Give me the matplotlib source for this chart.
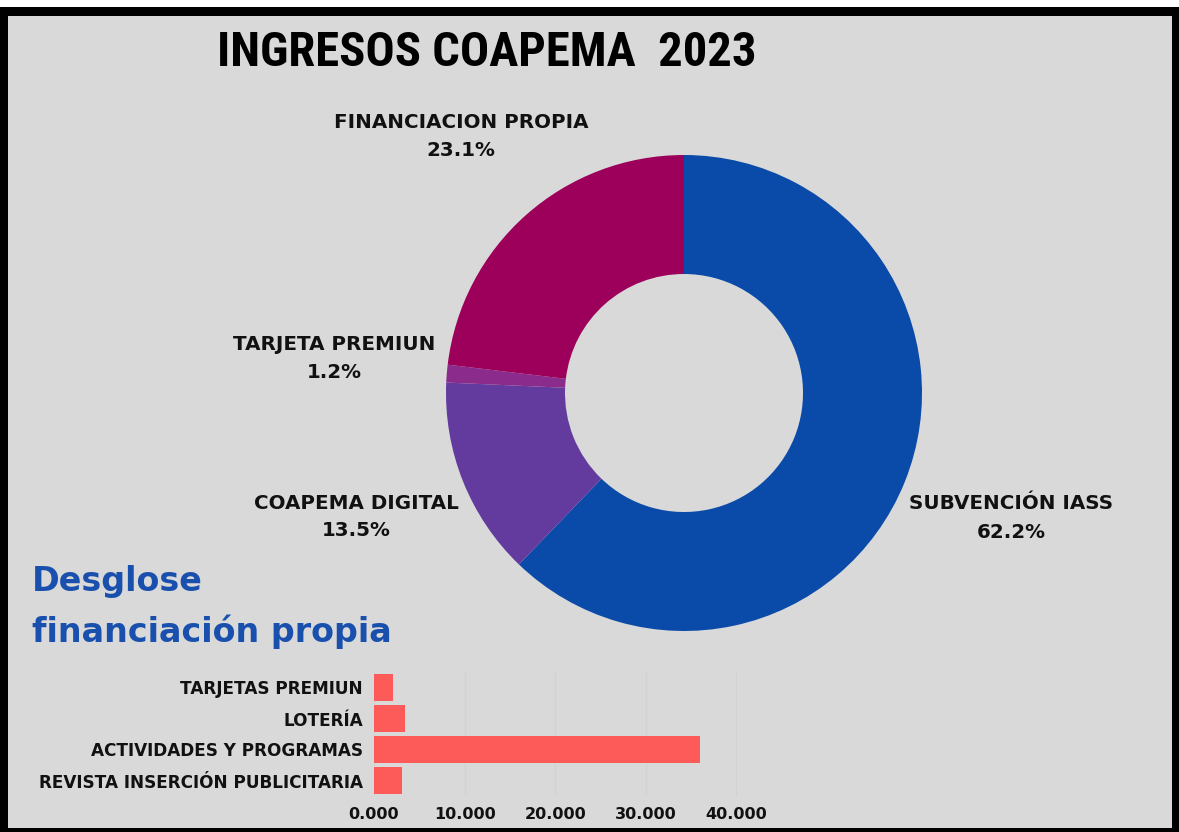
import matplotlib.pyplot as plt
from matplotlib.patches import Rectangle
from matplotlib.ticker import FuncFormatter

# datos donut
fuentes = ["SUBVENCIÓN IASS", "COAPEMA DIGITAL", "TARJETA PREMIUN", "FINANCIACION PROPIA"]
porcentajes = [62.2, 13.5, 1.2, 23.1]
colores = ["#0a4aa8", "#633a9e", "#8b2c8c", "#9c005a"]

# datos barras (desglose financiacion propia)
conceptos = ["TARJETAS PREMIUN", "LOTERÍA", "ACTIVIDADES Y PROGRAMAS", "REVISTA INSERCIÓN PUBLICITARIA"]
importes = [2100, 3400, 36000, 3100]

W, H = 1179, 832
fondo = "#d9d9d9"
fuente_txt = ["DejaVu Sans"]
fuente_tit = ["Liberation Sans Narrow", "Roboto Condensed", "Open Sans", "DejaVu Sans"]

fig = plt.figure(figsize=(W / 100, H / 100), dpi=100, facecolor="white")

# marco negro + fondo gris
fig.patches.append(Rectangle((0, 0), 1, 1 - 7 / H, transform=fig.transFigure,
                             facecolor="black", edgecolor="none", zorder=-2))
fig.patches.append(Rectangle((8 / W, 4 / H), (1172 - 8) / W, (828 - 16) / H,
                             transform=fig.transFigure, facecolor=fondo,
                             edgecolor="none", zorder=-1))

def px(x, y):
    return x / W, 1 - y / H

# titulo
fig.text(*px(487, 53), "INGRESOS COAPEMA  2023", ha="center", va="center",
         fontsize=35, fontweight="heavy", family=fuente_tit, color="black")

# donut
cx, cy, r = 684, 393, 238
ax = fig.add_axes([(cx - r) / W, (H - cy - r) / H, 2 * r / W, 2 * r / H])
ax.pie(porcentajes, colors=colores, startangle=90, counterclock=False,
       wedgeprops=dict(width=0.5, edgecolor="none"))
ax.set_xlim(-1, 1)
ax.set_ylim(-1, 1)
ax.set_aspect("equal")
ax.axis("off")

# etiquetas donut
pos_etiquetas = [(1011, 504, 532), (356, 504, 530), (334, 345, 372), (461, 122, 150)]
for nombre, pct, (x, y1, y2) in zip(fuentes, porcentajes, pos_etiquetas):
    fig.text(*px(x, y1), nombre, ha="center", va="center", fontsize=14.3,
             fontweight="bold", family=fuente_txt, color="#111111")
    fig.text(*px(x, y2), f"{pct:.1f}%", ha="center", va="center", fontsize=14.3,
             fontweight="bold", family=fuente_txt, color="#111111")

# subtitulo
fig.text(*px(32, 582), "Desglose", ha="left", va="center", fontsize=24,
         fontweight="bold", family=fuente_txt, color="#1a50ad")
fig.text(*px(32, 632), "financiación propia", ha="left", va="center", fontsize=24,
         fontweight="bold", family=fuente_txt, color="#1a50ad")

# barras
x0, x1 = 374, 374 + 43000 * 0.00906
y0, y1 = 672, 796
bx = fig.add_axes([x0 / W, (H - y1) / H, (x1 - x0) / W, (y1 - y0) / H])
bx.set_facecolor(fondo)
bx.barh(range(len(conceptos)), importes, height=0.9, color="#fd5a5a")
bx.set_yticks(range(len(conceptos)))
bx.set_yticklabels(conceptos)
bx.set_ylim(len(conceptos) - 0.5, -0.5)
bx.set_xlim(0, 43000)
bx.set_xticks([0, 10000, 20000, 30000, 40000])
bx.xaxis.set_major_formatter(FuncFormatter(lambda v, p: f"{v / 1000:.3f}"))
bx.grid(axis="x", color="#d2d2d2", linewidth=0.8)
bx.set_axisbelow(True)
for s in bx.spines.values():
    s.set_visible(False)
bx.tick_params(length=0, pad=8)
for t in bx.get_yticklabels():
    t.set_fontweight("bold")
    t.set_family(fuente_txt)
    t.set_fontsize(12.2)
    t.set_color("#111111")
for t in bx.get_xticklabels():
    t.set_fontweight("bold")
    t.set_family(fuente_txt)
    t.set_fontsize(11.5)
    t.set_color("#111111")

plt.savefig("out.png", dpi=100, facecolor=fig.get_facecolor())
